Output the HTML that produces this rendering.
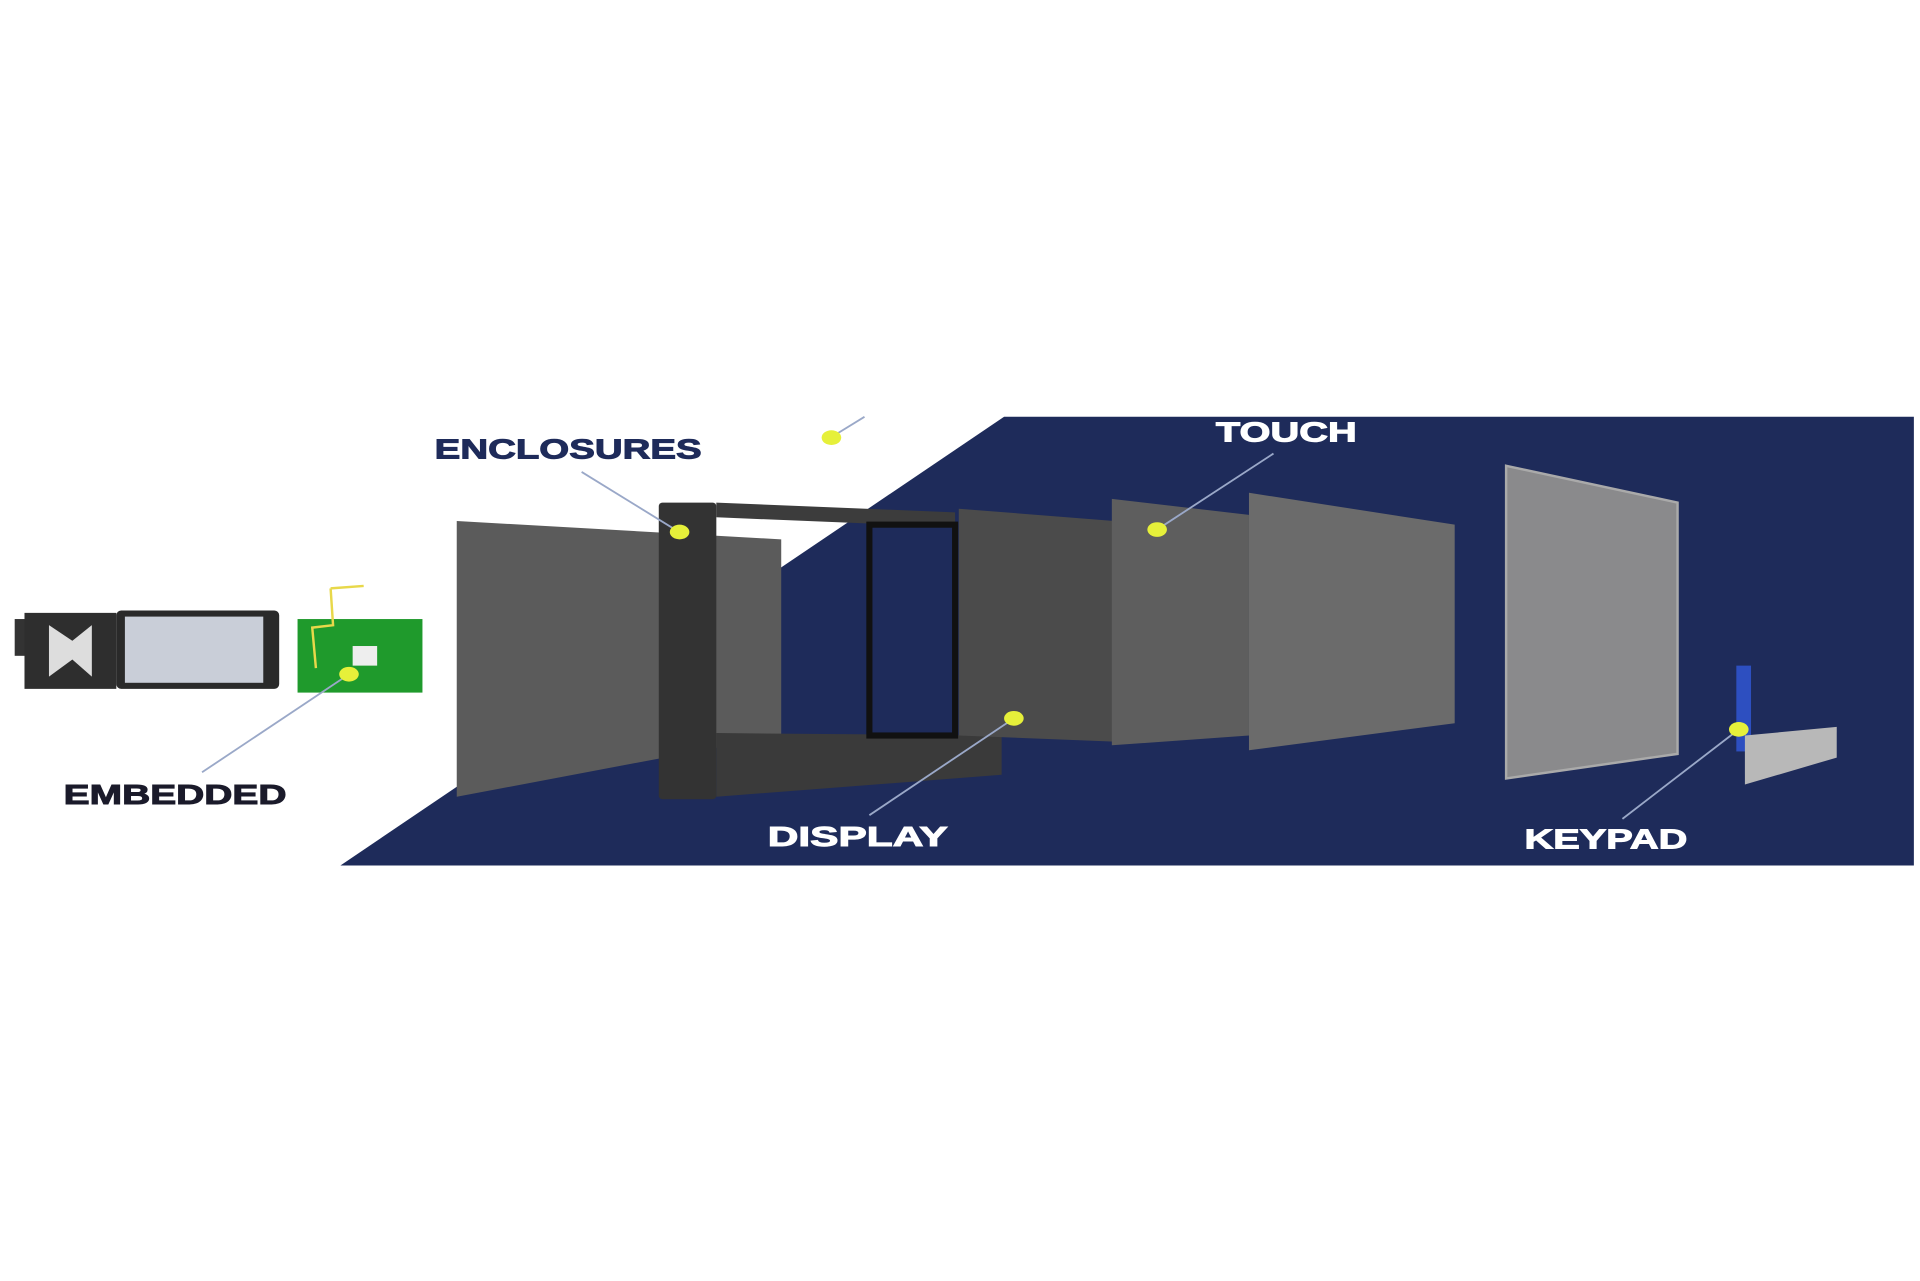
<!DOCTYPE html>
<html><head><meta charset="utf-8"><style>
html,body{margin:0;padding:0;background:#fff;width:1920px;height:1281px;overflow:hidden}
svg{display:block}
text{font-family:"Liberation Sans","DejaVu Sans",sans-serif;font-weight:bold;font-size:23px;stroke-width:0.8px}
</style></head><body>
<svg width="1920" height="1281" viewBox="0 0 1568 1045" preserveAspectRatio="none">
<rect width="1568" height="1045" fill="#fff"/>
<polygon points="820,340 1563,340 1563,706 278,706" fill="#1e2b5a"/>
<!-- embedded -->
<rect x="12" y="505" width="12" height="30" fill="#333"/>
<polygon points="20,500 95,500 95,562 20,562" fill="#2e2e2e"/>
<polygon points="40,510 70,530 40,552" fill="#ddd"/>
<polygon points="75,510 50,530 75,552" fill="#ddd"/>
<rect x="95" y="498" width="133" height="64" rx="4" fill="#2a2a2a"/>
<rect x="102" y="503" width="113" height="54" fill="#c9ced8"/>
<rect x="243" y="505" width="102" height="60" fill="#1f9a2c"/>
<rect x="288" y="527" width="20" height="16" fill="#eee"/>
<polyline points="270,480 272,510 255,512 258,545" stroke="#e8d84a" stroke-width="2" fill="none"/>
<line x1="270" y1="480" x2="297" y2="478" stroke="#e8d84a" stroke-width="2"/>
<!-- back panel -->
<polygon points="373,425 638,440 638,600 373,650" fill="#5b5b5b"/>
<!-- enclosure -->
<polygon points="585,410 780,418 780,430 585,422" fill="#3c3c3c"/>
<polygon points="585,598 818,600 818,632 585,650" fill="#3a3a3a"/>
<rect x="710" y="428" width="70" height="172" fill="none" stroke="#111" stroke-width="5"/>
<rect x="538" y="410" width="47" height="242" rx="3" fill="#333"/>
<!-- display -->
<polygon points="783,415 910,425 910,605 783,600" fill="#4b4b4b"/>
<!-- touch -->
<polygon points="908,407 1020,420 1020,600 908,608" fill="#5e5e5e"/>
<polygon points="1020,402 1188,428 1188,590 1020,612" fill="#6b6b6b"/>
<!-- front -->
<polygon points="1230,380 1370,410 1370,615 1230,635" fill="#8a8a8c" stroke="#aaa" stroke-width="2"/>
<!-- keypad -->
<rect x="1418" y="543" width="12" height="70" fill="#2d4fc0"/>
<polygon points="1425,600 1500,593 1500,618 1425,640" fill="#b8b8b8"/>
<!-- leaders -->
<g stroke="#9aa8c8" stroke-width="1.5">
<line x1="475" y1="385" x2="553" y2="433"/>
<line x1="1040" y1="370" x2="945" y2="432"/>
<line x1="165" y1="630" x2="285" y2="550"/>
<line x1="710" y1="665" x2="828" y2="586"/>
<line x1="1325" y1="668" x2="1420" y2="595"/>
<line x1="680" y1="356" x2="706" y2="340"/>
</g>
<g fill="#e6f03a">
<ellipse cx="555" cy="434" rx="8" ry="6"/>
<ellipse cx="945" cy="432" rx="8" ry="6"/>
<ellipse cx="285" cy="550" rx="8" ry="6"/>
<ellipse cx="828" cy="586" rx="8" ry="6"/>
<ellipse cx="1420" cy="595" rx="8" ry="6"/>
<ellipse cx="679" cy="357" rx="8" ry="6"/>
</g>
<text x="355" y="374" fill="#1e2b5a" stroke="#1e2b5a" textLength="218" lengthAdjust="spacingAndGlyphs">ENCLOSURES</text>
<text x="993" y="360" fill="#fff" stroke="#fff" textLength="115" lengthAdjust="spacingAndGlyphs">TOUCH</text>
<text x="52" y="656" fill="#1a1a2a" stroke="#1a1a2a" textLength="182" lengthAdjust="spacingAndGlyphs">EMBEDDED</text>
<text x="627" y="690" fill="#fff" stroke="#fff" textLength="147" lengthAdjust="spacingAndGlyphs">DISPLAY</text>
<text x="1245" y="692" fill="#fff" stroke="#fff" textLength="133" lengthAdjust="spacingAndGlyphs">KEYPAD</text>
</svg>
</body></html>
